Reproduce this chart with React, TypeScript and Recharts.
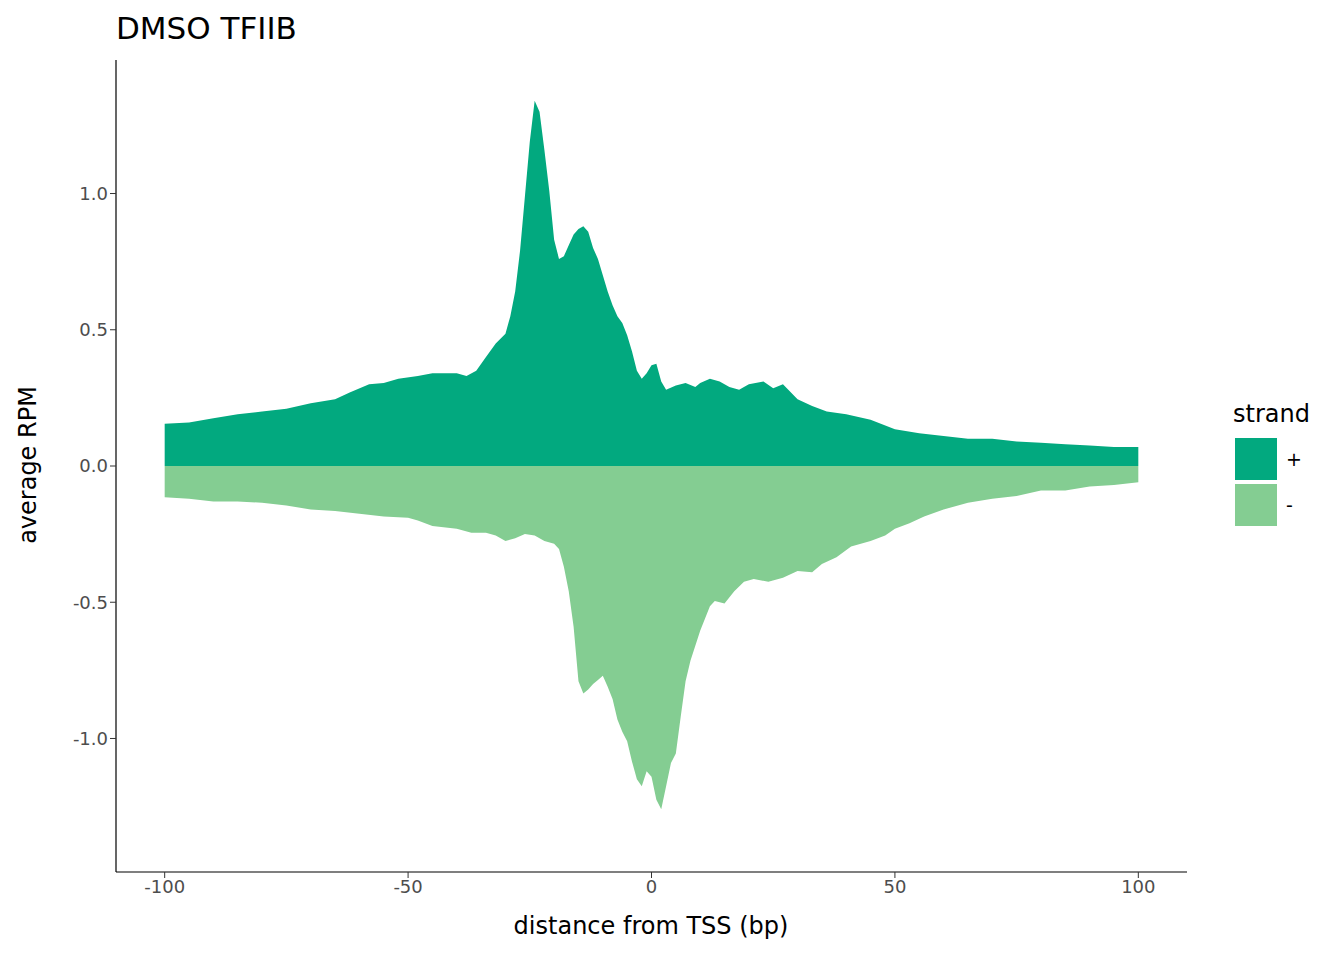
import React from "react";
import { AreaChart, Area, XAxis, YAxis } from "recharts";

// values (distance from TSS in bp, average RPM)
const plusX = [-100, -95, -90, -85, -80, -75, -70, -65, -62, -58, -55, -52, -48, -45, -40, -38, -36, -34, -32, -30, -29, -28, -27, -26, -25, -24, -23, -22, -21, -20, -19, -18, -17, -16, -15, -14, -13, -12, -11, -10, -9, -8, -7, -6, -5, -4, -3, -2, -1, 0, 1, 2, 3, 5, 7, 9, 10, 12, 14, 16, 18, 20, 23, 25, 27, 30, 33, 36, 40, 45, 50, 55, 60, 65, 70, 75, 80, 85, 90, 95, 100];
const plusY = [0.155, 0.16, 0.175, 0.19, 0.2, 0.21, 0.23, 0.245, 0.27, 0.3, 0.305, 0.32, 0.33, 0.34, 0.34, 0.33, 0.35, 0.4, 0.45, 0.485, 0.55, 0.64, 0.79, 0.99, 1.19, 1.34, 1.3, 1.16, 1.01, 0.83, 0.76, 0.77, 0.81, 0.85, 0.87, 0.88, 0.86, 0.8, 0.76, 0.7, 0.64, 0.59, 0.55, 0.525, 0.48, 0.42, 0.35, 0.32, 0.34, 0.37, 0.375, 0.31, 0.28, 0.295, 0.305, 0.29, 0.305, 0.32, 0.31, 0.29, 0.28, 0.3, 0.31, 0.285, 0.3, 0.245, 0.22, 0.2, 0.19, 0.17, 0.135, 0.12, 0.11, 0.1, 0.1, 0.09, 0.085, 0.08, 0.075, 0.07, 0.07];

const minusX = [-100, -95, -90, -85, -80, -75, -70, -65, -60, -55, -50, -48, -45, -40, -37, -34, -32, -30, -28, -26, -24, -22, -20, -19, -18, -17, -16, -15, -14, -13, -12, -11, -10, -9, -8, -7, -6, -5, -4, -3, -2, -1, 0, 1, 2, 3, 4, 5, 6, 7, 8, 10, 12, 13, 15, 17, 19, 21, 24, 27, 30, 33, 35, 38, 41, 45, 48, 50, 53, 56, 60, 65, 70, 75, 80, 85, 90, 95, 100];
const minusY = [-0.115, -0.12, -0.13, -0.13, -0.135, -0.145, -0.16, -0.165, -0.175, -0.185, -0.19, -0.2, -0.22, -0.23, -0.245, -0.245, -0.255, -0.275, -0.265, -0.25, -0.255, -0.275, -0.285, -0.305, -0.37, -0.46, -0.59, -0.79, -0.835, -0.82, -0.8, -0.785, -0.77, -0.81, -0.855, -0.93, -0.975, -1.01, -1.085, -1.15, -1.175, -1.12, -1.14, -1.225, -1.26, -1.175, -1.09, -1.055, -0.92, -0.79, -0.715, -0.605, -0.515, -0.495, -0.505, -0.46, -0.425, -0.415, -0.425, -0.41, -0.385, -0.39, -0.36, -0.335, -0.295, -0.275, -0.255, -0.23, -0.21, -0.185, -0.16, -0.135, -0.12, -0.11, -0.09, -0.09, -0.075, -0.07, -0.06];

const xTicks = [-100, -50, 0, 50, 100];
const yTicks = [-1, -0.5, 0, 0.5, 1];

const PLUS = "#02a97f";
const MINUS = "#84cd92";
const FONT = "'DejaVu Sans', sans-serif";

// merge the two strands into one table keyed by x
const allX = Array.from(new Set([...plusX, ...minusX])).sort((a, b) => a - b);
const data = allX.map((x) => {
  const pi = plusX.indexOf(x);
  const mi = minusX.indexOf(x);
  return { x, plus: pi >= 0 ? plusY[pi] : undefined, minus: mi >= 0 ? minusY[mi] : undefined };
});

const tickStyle = { fill: "#4d4d4d", fontSize: 18, fontFamily: FONT };

export default function App() {
  return (
    <div style={{ position: "relative", width: 1344, height: 960, margin: -8, background: "#fff", fontFamily: FONT }}>
      <AreaChart width={1344} height={960} data={data} margin={{ top: 60, right: 157, bottom: 48, left: 56 }}>
        <XAxis
          dataKey="x"
          type="number"
          domain={[-110, 110]}
          ticks={xTicks}
          allowDataOverflow
          height={40}
          tick={tickStyle}
          tickSize={6}
          stroke="#000"
          tickLine={{ stroke: "#333" }}
          axisLine={{ stroke: "#000", strokeWidth: 1.2 }}
        />
        <YAxis
          type="number"
          domain={[-1.49, 1.49]}
          ticks={yTicks}
          allowDataOverflow
          width={60}
          tick={tickStyle}
          tickSize={6}
          tickFormatter={(v: number) => v.toFixed(1)}
          tickLine={{ stroke: "#333" }}
          axisLine={{ stroke: "#000", strokeWidth: 1.2 }}
        />
        <Area dataKey="plus" type="linear" baseValue={0} connectNulls fill={PLUS} fillOpacity={1} stroke="none" isAnimationActive={false} />
        <Area dataKey="minus" type="linear" baseValue={0} connectNulls fill={MINUS} fillOpacity={1} stroke="none" isAnimationActive={false} />
      </AreaChart>

      <div style={{ position: "absolute", left: 116, top: 10, fontSize: 31, color: "#000" }}>DMSO TFIIB</div>
      <div style={{ position: "absolute", left: 651, top: 912, transform: "translateX(-50%)", fontSize: 24, whiteSpace: "nowrap" }}>
        distance from TSS (bp)
      </div>
      <div style={{ position: "absolute", left: 28, top: 465, transform: "translate(-50%, -50%) rotate(-90deg)", fontSize: 24, whiteSpace: "nowrap" }}>
        average RPM
      </div>

      <div style={{ position: "absolute", left: 1233, top: 400, fontSize: 24 }}>strand</div>
      <div style={{ position: "absolute", left: 1235, top: 438, width: 42, height: 42, background: PLUS }} />
      <div style={{ position: "absolute", left: 1235, top: 484, width: 42, height: 42, background: MINUS }} />
      <div style={{ position: "absolute", left: 1286, top: 448, fontSize: 19 }}>+</div>
      <div style={{ position: "absolute", left: 1286, top: 494, fontSize: 19 }}>-</div>
    </div>
  );
}
